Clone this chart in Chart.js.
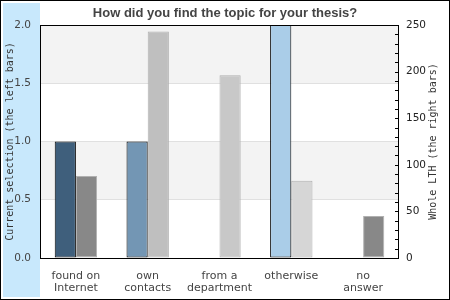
<!DOCTYPE html>
<html lang="en">
<head>
    <meta charset="UTF-8">
    <title>How did you find the topic for your thesis?</title>
    <script src="https://cdn.jsdelivr.net/npm/chart.js"></script>
    <style>
        html, body { margin: 0; padding: 0; background: #fff; }
        #wrap { width: 450px; height: 300px; }
    </style>
</head>
<body>
<div id="wrap"><canvas id="topicChart" width="450" height="300"></canvas></div>
<script>
    // Data
    var categories = [['found on', 'Internet'], ['own', 'contacts'], ['from a', 'department'], ['otherwise'], ['no', 'answer']];
    var currentSelection = [1, 1, 0, 2, 0];
    var wholeLTH = [88, 243, 196, 83, 45];
    var leftColors = ['#3f5f7c', '#7396b4', '#5f88aa', '#aacde8', '#cfe4f4'];
    var rightColors = ['#888888', '#bfbfbf', '#c8c8c8', '#d6d6d6', '#888888'];
    var leftTicks = [0, 0.5, 1, 1.5, 2];

    // background, bands, frame, inward ticks and rotated axis titles
    var decorPlugin = {
        id: 'decor',
        beforeDraw: function(chart) {
            var ctx = chart.ctx, a = chart.chartArea, y = chart.scales.y;
            ctx.save();
            ctx.fillStyle = '#c8e8fc';
            ctx.fillRect(3, 3, 37, 294);
            ctx.fillStyle = '#f3f3f3';
            [[1.5, 2], [0.5, 1]].forEach(function(b) {
                var top = y.getPixelForValue(b[1]), bot = y.getPixelForValue(b[0]);
                ctx.fillRect(a.left, top, a.right - a.left, bot - top);
            });
            ctx.restore();
        },
        afterDraw: function(chart) {
            var ctx = chart.ctx, a = chart.chartArea, y2 = chart.scales.y2;
            ctx.save();
            ctx.strokeStyle = '#000';
            ctx.lineWidth = 1;
            ctx.strokeRect(0.5, 0.5, 449, 299);
            ctx.strokeRect(a.left + 0.5, a.top + 0.5, a.right - a.left - 1, a.bottom - a.top);
            ctx.beginPath();
            y2.ticks.forEach(function(t) {
                var py = Math.round(y2.getPixelForValue(t.value)) + 0.5;
                ctx.moveTo(a.right - 4, py);
                ctx.lineTo(a.right, py);
            });
            ctx.stroke();

            ctx.fillStyle = '#333';
            ctx.font = '10px "DejaVu Sans Mono"';
            ctx.textAlign = 'center';
            ctx.textBaseline = 'middle';
            var cy = (a.top + a.bottom) / 2;
            ctx.translate(10, cy);
            ctx.rotate(-Math.PI / 2);
            ctx.fillText('Current selection (the left bars)', 0, 0);
            ctx.setTransform(1, 0, 0, 1, 0, 0);
            ctx.translate(433, cy);
            ctx.rotate(-Math.PI / 2);
            ctx.fillText('Whole LTH (the right bars)', 0, 0);
            ctx.restore();
        }
    };

    var ctx = document.getElementById('topicChart').getContext('2d');
    var topicChart = new Chart(ctx, {
        type: 'bar',
        data: {
            labels: categories,
            datasets: [{
                label: 'Current selection',
                data: currentSelection,
                yAxisID: 'y',
                backgroundColor: leftColors,
                borderColor: '#000',
                borderWidth: function(c) { return c.raw ? 1 : 0; },
                borderSkipped: false
            }, {
                label: 'Whole LTH',
                data: wholeLTH,
                yAxisID: 'y2',
                backgroundColor: rightColors,
                borderColor: '#b0b0b0',
                borderWidth: 1,
                borderSkipped: false
            }]
        },
        options: {
            responsive: false,
            animation: false,
            categoryPercentage: 0.59,
            barPercentage: 1.0,
            layout: { padding: 0 },
            plugins: {
                legend: { display: false },
                tooltip: { enabled: false },
                title: {
                    display: true,
                    text: 'How did you find the topic for your thesis?',
                    color: '#444',
                    font: { family: '"Liberation Sans", Arial, sans-serif', size: 13, weight: 'bold', lineHeight: '16px' },
                    padding: { top: 5, bottom: 4 }
                }
            },
            scales: {
                x: {
                    grid: { display: false },
                    border: { display: false },
                    ticks: {
                        color: '#444',
                        padding: 4,
                        maxRotation: 0,
                        autoSkip: false,
                        font: { family: '"DejaVu Sans"', size: 11, lineHeight: '12px' }
                    },
                    afterFit: function(s) { s.height = 42; }
                },
                y: {
                    position: 'left',
                    min: 0,
                    max: 2,
                    afterBuildTicks: function(s) { s.ticks = leftTicks.map(function(v) { return { value: v }; }); },
                    grid: { color: '#e0e0e0', drawTicks: false },
                    border: { display: false },
                    ticks: {
                        color: '#444',
                        padding: 9,
                        font: { family: '"DejaVu Sans"', size: 10.5 },
                        callback: function(v) { return Number(v).toFixed(1); }
                    },
                    afterFit: function(s) { s.width = 40; }
                },
                y2: {
                    position: 'right',
                    min: 0,
                    max: 250,
                    grid: { drawOnChartArea: false, drawTicks: false },
                    border: { display: false },
                    ticks: {
                        stepSize: 10,
                        autoSkip: false,
                        color: '#222',
                        padding: 7,
                        font: { family: '"DejaVu Sans"', size: 10.5 },
                        callback: function(v) { return v % 50 === 0 ? v : ''; }
                    },
                    afterFit: function(s) { s.width = 51; }
                }
            }
        },
        plugins: [decorPlugin]
    });
</script>
</body>
</html>
